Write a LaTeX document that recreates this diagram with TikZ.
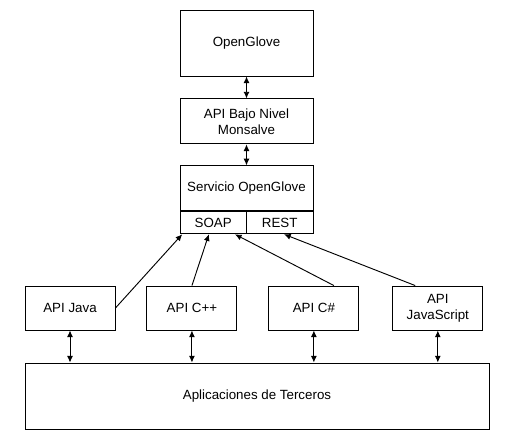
\documentclass[tikz,border=0pt]{standalone}
\usepackage{fontspec}
\setmainfont{Liberation Sans}
\usepackage{tikz}
\usetikzlibrary{arrows.meta,positioning,calc}

\tikzset{
  caja/.style={draw, line width=0.7pt, align=center, inner sep=0pt,
               font=\fontsize{10}{12}\selectfont},
  api/.style={caja, minimum width=67.5pt, minimum height=33pt},
  flecha/.style={->, line width=0.7pt},
  doble/.style={<->, line width=0.7pt}
}

\begin{document}
\begin{tikzpicture}[>={Latex[length=5pt,width=4.5pt]}, x=0.75pt, y=-0.75pt]
  \useasboundingbox (0,0) rectangle (516,442);

  \node(og)[caja, minimum width=99.75pt, minimum height=49.5pt]
    at (246.5,43) {OpenGlove};

  \node(bajo)[caja, minimum width=99.75pt, minimum height=33.75pt,
              below=16.5pt of og]
    {API Bajo Nivel\\Monsalve};

  \node(serv)[caja, minimum width=99.75pt, minimum height=33.75pt,
              below=15.75pt of bajo]
    {Servicio OpenGlove};

  \node(soap)[caja, minimum width=49.875pt, minimum height=16.5pt,
              below=0 of serv.south west, anchor=north west]
    {SOAP};
  \node(rest)[caja, minimum width=49.875pt, minimum height=16.5pt,
              below=0 of serv.south east, anchor=north east]
    {REST};

  \draw[doble] (og) -- (bajo);
  \draw[doble] (bajo) -- (serv);

  \node(java)[api] at (70,308) {API Java};
  \node(cpp)[api, right=23.25pt of java] {API C++};
  \node(cs)[api, right=23.25pt of cpp] {API C\#};
  \node(js)[api, right=24.75pt of cs] {API\\JavaScript};

  \node(apps)[caja, minimum width=348pt, minimum height=49.5pt]
    at (257,396) {Aplicaciones de Terceros};

  % clientes hacia el servicio
  \draw[flecha] (java.east) -- ([xshift=2pt]soap.south west);
  \draw[flecha] (cpp.north) -- ([xshift=22pt]soap.south west);
  \draw[flecha] ([xshift=15pt]cs.north) -- ([xshift=-9pt]soap.south east);
  \draw[flecha] ([xshift=-17pt]js.north) -- ([xshift=28.5pt]rest.south west);

  \foreach \n in {java,cpp,cs,js}
    \draw[doble] (\n.south) -- (\n.south |- apps.north);

\end{tikzpicture}
\end{document}
